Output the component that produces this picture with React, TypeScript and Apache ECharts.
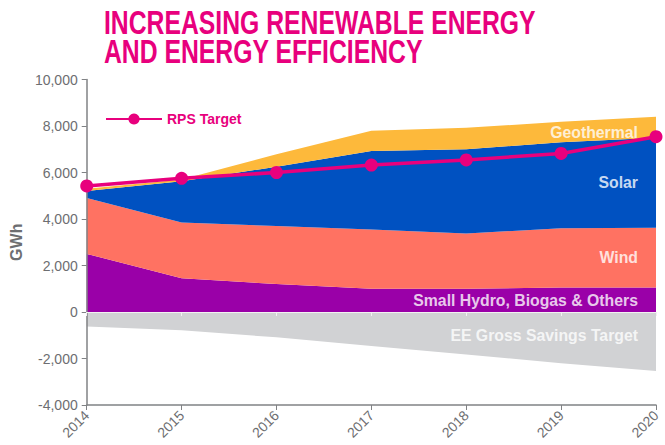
import React, { useEffect, useRef } from "react";
import * as echarts from "echarts";

const years = ["2014", "2015", "2016", "2017", "2018", "2019", "2020"];
const hydro = [2500, 1450, 1200, 1000, 1000, 1050, 1050];
const wind = [2400, 2400, 2500, 2550, 2380, 2550, 2570];
const solar = [300, 1770, 2550, 3370, 3620, 3700, 3880];
const geothermal = [100, 80, 530, 880, 920, 880, 900];
const eeSavings = [-620, -780, -1090, -1460, -1830, -2200, -2540];
const rpsTarget = [5420, 5750, 6000, 6320, 6540, 6820, 7540];
const labelNames = ["Geothermal", "Solar", "Wind", "Small Hydro, Biogas & Others", "EE Gross Savings Target"];
const labelValues = [7740, 5550, 2365, 516, -1030];
const titleText = "INCREASING RENEWABLE ENERGY\nAND ENERGY EFFICIENCY";

const GRAY_TEXT = "#6d6e71";
const MAGENTA = "#e8007d";

export default function App() {
  const ref = useRef<HTMLDivElement>(null);
  useEffect(() => {
    if (!ref.current) return;
    const chart = echarts.init(ref.current, undefined, { renderer: "svg" });
    const areaSeries = (name: string, data: number[], color: string, stack?: string) => ({
      name,
      type: "line",
      stack,
      data,
      symbol: "none",
      lineStyle: { width: 0 },
      itemStyle: { color },
      areaStyle: { color, opacity: 1 },
      z: 2,
    });
    chart.setOption({
      animation: false,
      graphic: [
        {
          type: "text",
          x: 104,
          y: 8,
          scaleX: 0.75,
          scaleY: 1,
          style: {
            text: titleText,
            fill: MAGENTA,
            fontFamily: "Liberation Sans",
            fontWeight: "bold",
            fontSize: 33,
            lineHeight: 29,
          },
        },
      ],
      legend: {
        data: ["RPS Target"],
        left: 100,
        top: 107,
        itemWidth: 56,
        itemHeight: 14,
        textStyle: {
          color: MAGENTA,
          fontWeight: "bold",
          fontSize: 14,
          fontFamily: "Liberation Sans",
        },
      },
      grid: { left: 82, right: 9, top: 79.5, bottom: 40, containLabel: false },
      xAxis: [
        {
          type: "category",
          data: years,
          boundaryGap: false,
          z: 5,
          axisLine: { onZero: false, lineStyle: { color: "#808285", width: 1.5 } },
          axisTick: { show: true, length: 5, lineStyle: { color: "#808285" } },
          axisLabel: {
            rotate: 45,
            color: GRAY_TEXT,
            fontSize: 14,
            fontFamily: "Liberation Sans",
            margin: 8,
          },
        },
        {
          type: "category",
          data: years,
          boundaryGap: false,
          position: "bottom",
          z: 6,
          axisLine: { onZero: true, lineStyle: { color: "#f2f2f2", width: 1 } },
          axisTick: { show: true, length: 4, lineStyle: { color: "#f2f2f2" } },
          axisLabel: { show: false },
        },
      ],
      yAxis: {
        type: "value",
        min: -4000,
        max: 10000,
        interval: 2000,
        z: 5,
        name: "GWh",
        nameLocation: "middle",
        nameGap: 56,
        nameTextStyle: {
          color: GRAY_TEXT,
          fontSize: 16,
          fontWeight: "bold",
          fontFamily: "Liberation Sans",
        },
        splitLine: { show: false },
        axisLine: { show: true, lineStyle: { color: "#808285", width: 1.5 } },
        axisTick: { show: true, length: 5, lineStyle: { color: "#808285" } },
        axisLabel: {
          color: GRAY_TEXT,
          fontSize: 14,
          fontFamily: "Liberation Sans",
          margin: 9,
          formatter: (v: number) => v.toLocaleString("en-US"),
        },
      },
      series: [
        areaSeries("Small Hydro, Biogas & Others", hydro, "#9a00a8", "re"),
        areaSeries("Wind", wind, "#ff7262", "re"),
        areaSeries("Solar", solar, "#0051c1", "re"),
        areaSeries("Geothermal", geothermal, "#fdb93b", "re"),
        areaSeries("EE Gross Savings Target", eeSavings, "#d1d2d4"),
        {
          name: "RPS Target",
          type: "line",
          data: rpsTarget,
          symbol: "circle",
          symbolSize: 13,
          lineStyle: { color: MAGENTA, width: 3.5 },
          itemStyle: { color: MAGENTA },
          z: 8,
        },
        {
          name: "labels",
          type: "scatter",
          symbolSize: 0,
          z: 9,
          silent: true,
          data: labelValues.map((v, i) => ({ value: [years.length - 1, v], name: labelNames[i] })),
          label: {
            show: true,
            position: "left",
            distance: 18,
            formatter: (p: any) => p.name,
            color: "#ffffff",
            fontWeight: "bold",
            fontSize: 15.8,
            fontFamily: "Liberation Sans",
          },
        },
      ],
    });
    return () => chart.dispose();
  }, []);
  return (
    <div
      ref={ref}
      style={{ position: "fixed", left: 0, top: 0, width: 665, height: 445, background: "#ffffff" }}
    />
  );
}
